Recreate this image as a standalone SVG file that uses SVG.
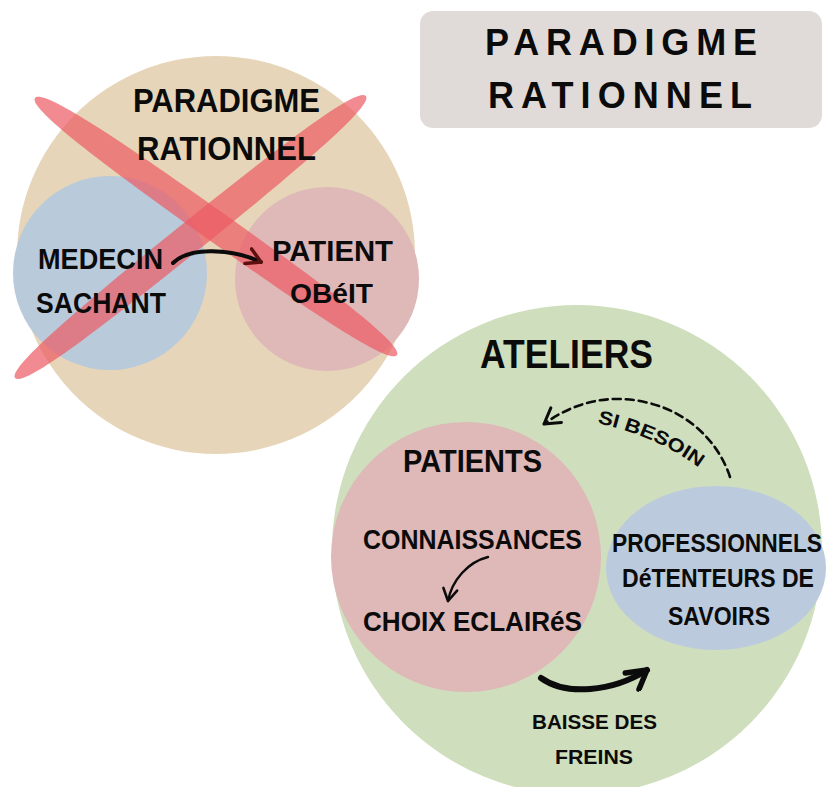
<svg xmlns="http://www.w3.org/2000/svg" width="827" height="787" viewBox="0 0 827 787">
<defs>
<style>
.t{font-family:"Liberation Sans","DejaVu Sans",sans-serif;font-weight:700;fill:#0b0b0b;}
.ln{fill:none;stroke:#0b0b0b;stroke-linecap:round;stroke-linejoin:round;}
.cross{fill:#ec5a62;fill-opacity:0.7;}
</style>
<marker id="hR" viewBox="-16 -10 18 20" markerWidth="18" markerHeight="20" refX="0" refY="0" orient="auto" markerUnits="userSpaceOnUse">
<path d="M -14 -8 L 0 0 L -14 8" fill="none" stroke="#5e1010" stroke-width="3.5" stroke-linecap="round" stroke-linejoin="round"/>
</marker>
<marker id="hD" viewBox="-17 -11 19 22" markerWidth="19" markerHeight="22" refX="0" refY="0" orient="auto" markerUnits="userSpaceOnUse">
<path d="M -15 -9 L 0 0 L -15 9" fill="none" stroke="#0b0b0b" stroke-width="3" stroke-linecap="round" stroke-linejoin="round"/>
</marker>
<marker id="hS" viewBox="-14 -10 16 20" markerWidth="16" markerHeight="20" refX="0" refY="0" orient="auto" markerUnits="userSpaceOnUse">
<path d="M -12 -7 L 0 0 L -12 7" fill="none" stroke="#0b0b0b" stroke-width="2.6" stroke-linecap="round" stroke-linejoin="round"/>
</marker>
<marker id="hT" viewBox="-24 -14 27 28" markerWidth="27" markerHeight="28" refX="0" refY="0" orient="auto" markerUnits="userSpaceOnUse">
<path d="M -20 -9 L 0 0 L -17 12" fill="none" stroke="#0b0b0b" stroke-width="5.5" stroke-linecap="round" stroke-linejoin="round"/>
</marker>
</defs>

<g id="title-box">
<rect x="420" y="11" width="402" height="117" rx="13" fill="#e0dbd8"/>
<text class="t" x="485" y="55" font-size="36" textLength="272" lengthAdjust="spacing">PARADIGME</text>
<text class="t" x="488" y="108" font-size="36" textLength="264" lengthAdjust="spacing">RATIONNEL</text>
</g>

<g id="old-paradigm">
<circle cx="216" cy="255" r="199" fill="#e6d5b9"/>
</g>
<g id="medecin">
<circle cx="110" cy="273" r="97" fill="#b9cadb"/>
</g>
<g id="patient">
<circle cx="327" cy="279" r="92" fill="#dfb9b8"/>
</g>

<g id="cross">
<path class="cross" transform="translate(216 226.5) rotate(35.4)" d="M -222 0 C -222 -11, -150 -15, 0 -15 C 150 -15, 222 -11, 222 0 C 222 11, 150 15, 0 15 C -150 15, -222 11, -222 0 Z"/>
<path class="cross" transform="translate(190.5 237) rotate(-38.8)" d="M -225 0 C -225 -11, -152 -15, 0 -15 C 152 -15, 225 -11, 225 0 C 225 11, 152 15, 0 15 C -152 15, -225 11, -225 0 Z"/>
</g>

<g id="old-paradigm-labels">
<text class="t" x="133" y="112" font-size="34" textLength="187" lengthAdjust="spacingAndGlyphs">PARADIGME</text>
<text class="t" x="137" y="160" font-size="34" textLength="179" lengthAdjust="spacingAndGlyphs">RATIONNEL</text>
<text class="t" x="38" y="269" font-size="29" textLength="125" lengthAdjust="spacingAndGlyphs">MEDECIN</text>
<text class="t" x="36" y="313" font-size="29" textLength="130" lengthAdjust="spacingAndGlyphs">SACHANT</text>
<text class="t" x="272" y="261" font-size="29" textLength="121" lengthAdjust="spacingAndGlyphs">PATIENT</text>
<text class="t" x="290" y="303" font-size="28" textLength="83" lengthAdjust="spacingAndGlyphs">OBéIT</text>
</g>

<g id="ateliers">
<circle cx="577" cy="550" r="245" fill="#cfdebd"/>
<text class="t" x="480" y="368" font-size="40" textLength="173" lengthAdjust="spacingAndGlyphs">ATELIERS</text>
</g>

<g id="patients">
<circle cx="466" cy="557" r="135" fill="#dfb8b8"/>
<text class="t" x="403" y="472" font-size="31" textLength="139" lengthAdjust="spacingAndGlyphs">PATIENTS</text>
<text class="t" x="363" y="549" font-size="27" textLength="219" lengthAdjust="spacingAndGlyphs">CONNAISSANCES</text>
<text class="t" x="363" y="631" font-size="27" textLength="219" lengthAdjust="spacingAndGlyphs">CHOIX ECLAIRéS</text>
</g>

<g id="professionnels">
<ellipse cx="716" cy="568" rx="110" ry="82" fill="#bbcbdd"/>
<text class="t" x="612" y="552" font-size="25" textLength="210" lengthAdjust="spacingAndGlyphs">PROFESSIONNELS</text>
<text class="t" x="622" y="587" font-size="25" textLength="192" lengthAdjust="spacingAndGlyphs">DéTENTEURS DE</text>
<text class="t" x="668" y="625" font-size="25" textLength="102" lengthAdjust="spacingAndGlyphs">SAVOIRS</text>
</g>

<g id="connectors">
<path class="ln" d="M 173 263 C 188 248, 228 247, 261 262" stroke="#5e1010" stroke-width="4" marker-end="url(#hR)"/>
<path class="ln" d="M 730 477 C 718 440, 682 402, 622 399 C 592 398, 566 408, 544 424" stroke-width="2.6" stroke-dasharray="8 5" marker-end="url(#hD)"/>
<path class="ln" d="M 488 557 C 468 562, 452 580, 448 601" stroke-width="2.4" marker-end="url(#hS)"/>
<path class="ln" d="M 541 678 C 566 696, 612 692, 647 670" stroke-width="6" marker-end="url(#hT)"/>
<path id="sbPath" d="M 597 423 Q 658 436 702 470" fill="none"/>
<text class="t" font-size="19"><textPath href="#sbPath" textLength="112" lengthAdjust="spacingAndGlyphs">SI BESOIN</textPath></text>
<text class="t" x="532" y="729" font-size="21" textLength="125" lengthAdjust="spacingAndGlyphs">BAISSE DES</text>
<text class="t" x="555" y="764" font-size="21" textLength="78" lengthAdjust="spacingAndGlyphs">FREINS</text>
</g>
</svg>
